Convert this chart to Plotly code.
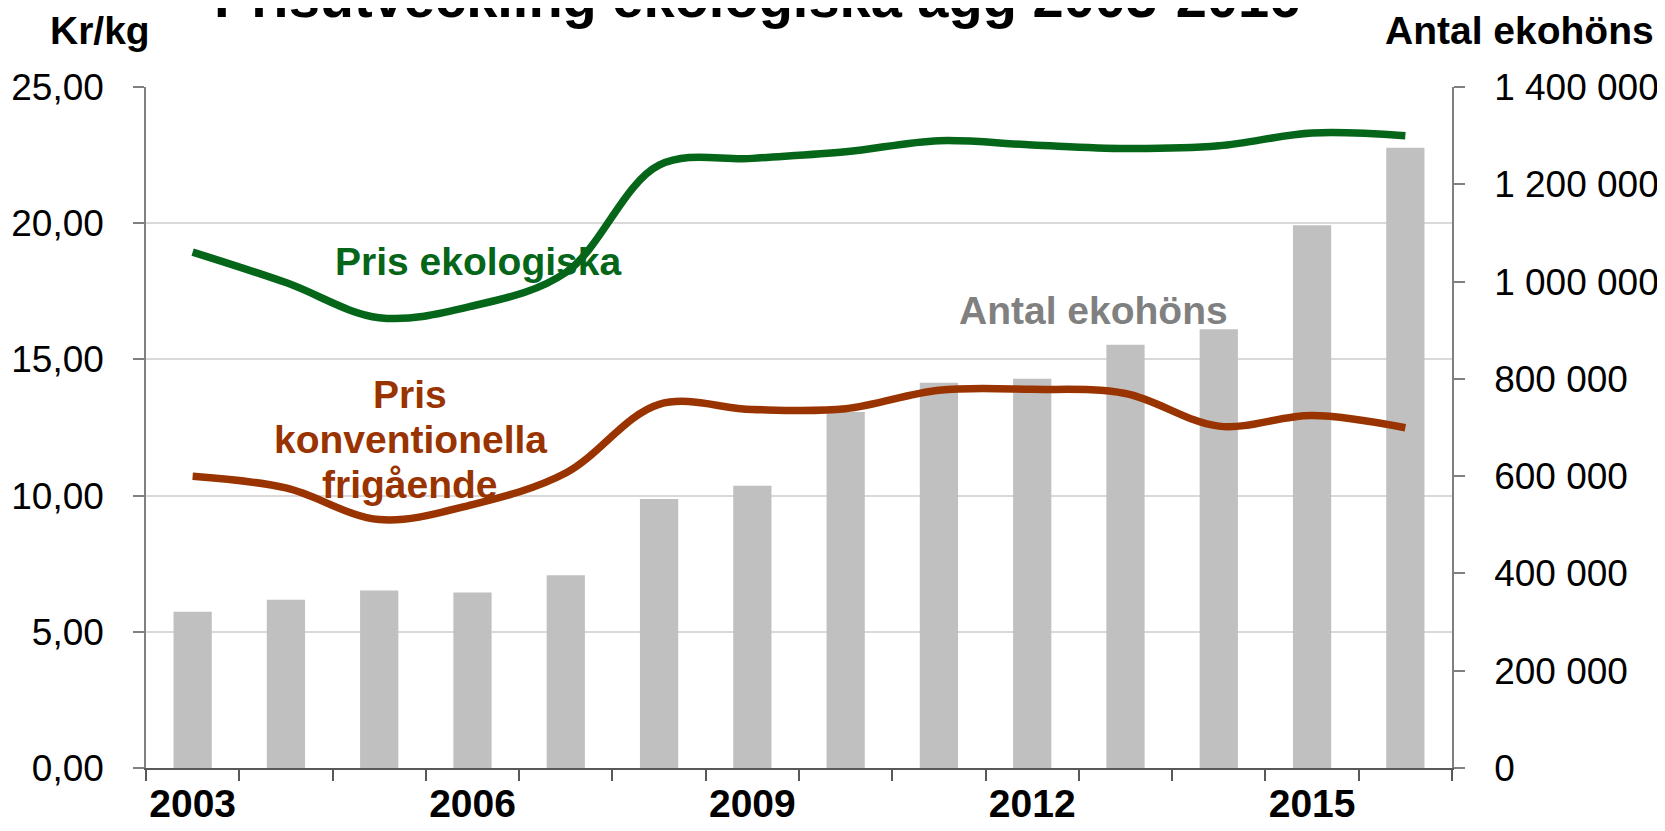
import plotly.graph_objects as go

years = [2003, 2004, 2005, 2006, 2007, 2008, 2009, 2010, 2011, 2012, 2013, 2014, 2015, 2016]
year_labels = ["2003", "2006", "2009", "2012", "2015"]
label_years = [2003, 2006, 2009, 2012, 2015]

antal_ekohons = [321000, 346000, 365000, 361000, 396000, 553000, 580000, 732000,
                 792000, 800000, 870000, 902000, 1116000, 1275000]
pris_ekologiska = [18.94, 17.82, 16.53, 16.96, 18.19, 22.13, 22.38, 22.62,
                   23.03, 22.87, 22.74, 22.84, 23.31, 23.21]
pris_konventionella = [10.71, 10.28, 9.12, 9.67, 10.83, 13.35, 13.16, 13.19,
                       13.87, 13.90, 13.75, 12.55, 12.94, 12.49]

FONT = "Liberation Sans, Arial, sans-serif"
GREEN = "#05661A"
BROWN = "#993300"
GREY_BAR = "#C0C0C0"
AXIS = "#808080"

fig = go.Figure()

fig.add_trace(go.Bar(
    x=years, y=antal_ekohons, name="Antal ekohöns",
    marker=dict(color=GREY_BAR, line=dict(width=0)),
    yaxis="y", hoverinfo="x+y",
))
fig.add_trace(go.Scatter(
    x=years, y=pris_ekologiska, name="Pris ekologiska", mode="lines",
    line=dict(color=GREEN, width=7.5, shape="spline", smoothing=1.0),
    yaxis="y2",
))
fig.add_trace(go.Scatter(
    x=years, y=pris_konventionella, name="Pris konventionella frigående", mode="lines",
    line=dict(color=BROWN, width=7.5, shape="spline", smoothing=1.0),
    yaxis="y2",
))

TICK = 37
BOLD = 39

fig.update_layout(
    width=1649, height=815,
    margin=dict(l=137.5, r=205, t=79, b=55, autoexpand=False),
    paper_bgcolor="white", plot_bgcolor="white",
    showlegend=False,
    separators=", ",
    bargap=0.59,
    font=dict(family=FONT, size=TICK, color="black"),
    xaxis=dict(
        range=[2002.5, 2016.5], automargin=False,
        tickmode="array", tickvals=label_years, ticktext=year_labels,
        ticks="", showgrid=False, zeroline=False,
        showline=True, linecolor="#595959", linewidth=2,
        tickfont=dict(family=FONT, size=BOLD, weight="bold", color="black"),
        ticklabelstandoff=0,
        minor=dict(ticks="outside", ticklen=11, tickwidth=1.5, tickcolor="#595959",
                   tick0=2002.5, dtick=1, showgrid=False),
    ),
    yaxis=dict(
        side="right", range=[0, 1400000], dtick=200000, tick0=0, automargin=False,
        tickformat=",.0f", showgrid=False, zeroline=False,
        showline=True, linecolor=AXIS, linewidth=1.5,
        ticks="outside", ticklen=11, tickwidth=1.5, tickcolor=AXIS,
        tickfont=dict(family=FONT, size=TICK, color="black"),
        ticklabelstandoff=22,
    ),
    yaxis2=dict(
        overlaying="y", side="left", range=[0, 25], dtick=5, tick0=0, automargin=False,
        tickformat=".2f", showgrid=True, gridcolor="#D9D9D9", gridwidth=1.5,
        zeroline=False,
        showline=True, linecolor=AXIS, linewidth=1.5,
        ticks="outside", ticklen=11, tickwidth=1.5, tickcolor=AXIS,
        tickfont=dict(family=FONT, size=TICK, color="black"),
        ticklabelstandoff=22,
    ),
)

ann_bold = dict(family=FONT, size=BOLD, weight="bold")

fig.add_annotation(text="Prisutveckling ekologiska ägg 2003-2016",
                   xref="paper", yref="paper", x=0.468, y=1.1314,
                   xanchor="center", yanchor="middle", showarrow=False,
                   font=dict(family=FONT, size=56, weight="bold", color="black"))
fig.add_annotation(text="Kr/kg", xref="paper", yref="paper", x=-0.035, y=1.0823,
                   xanchor="center", yanchor="middle", showarrow=False,
                   font=dict(ann_bold, color="black"))
fig.add_annotation(text="Antal ekohöns", xref="paper", yref="paper", x=1.1561, y=1.0823,
                   xanchor="right", yanchor="middle", showarrow=False,
                   font=dict(ann_bold, color="black"))

fig.add_annotation(text="Pris ekologiska", xref="x", yref="y2", x=2006.06, y=18.6,
                   xanchor="center", yanchor="middle", showarrow=False,
                   font=dict(ann_bold, color=GREEN))
for txt, yy in [("Pris", 13.71), ("konventionella", 12.06), ("frigående", 10.40)]:
    fig.add_annotation(text=txt, xref="x", yref="y2", x=2005.33, y=yy,
                       xanchor="center", yanchor="middle", showarrow=False,
                       font=dict(ann_bold, color=BROWN))
fig.add_annotation(text="Antal ekohöns", xref="x", yref="y2", x=2012.66, y=16.78,
                   xanchor="center", yanchor="middle", showarrow=False,
                   font=dict(ann_bold, color="#808080"))

fig.write_html("out.html")
